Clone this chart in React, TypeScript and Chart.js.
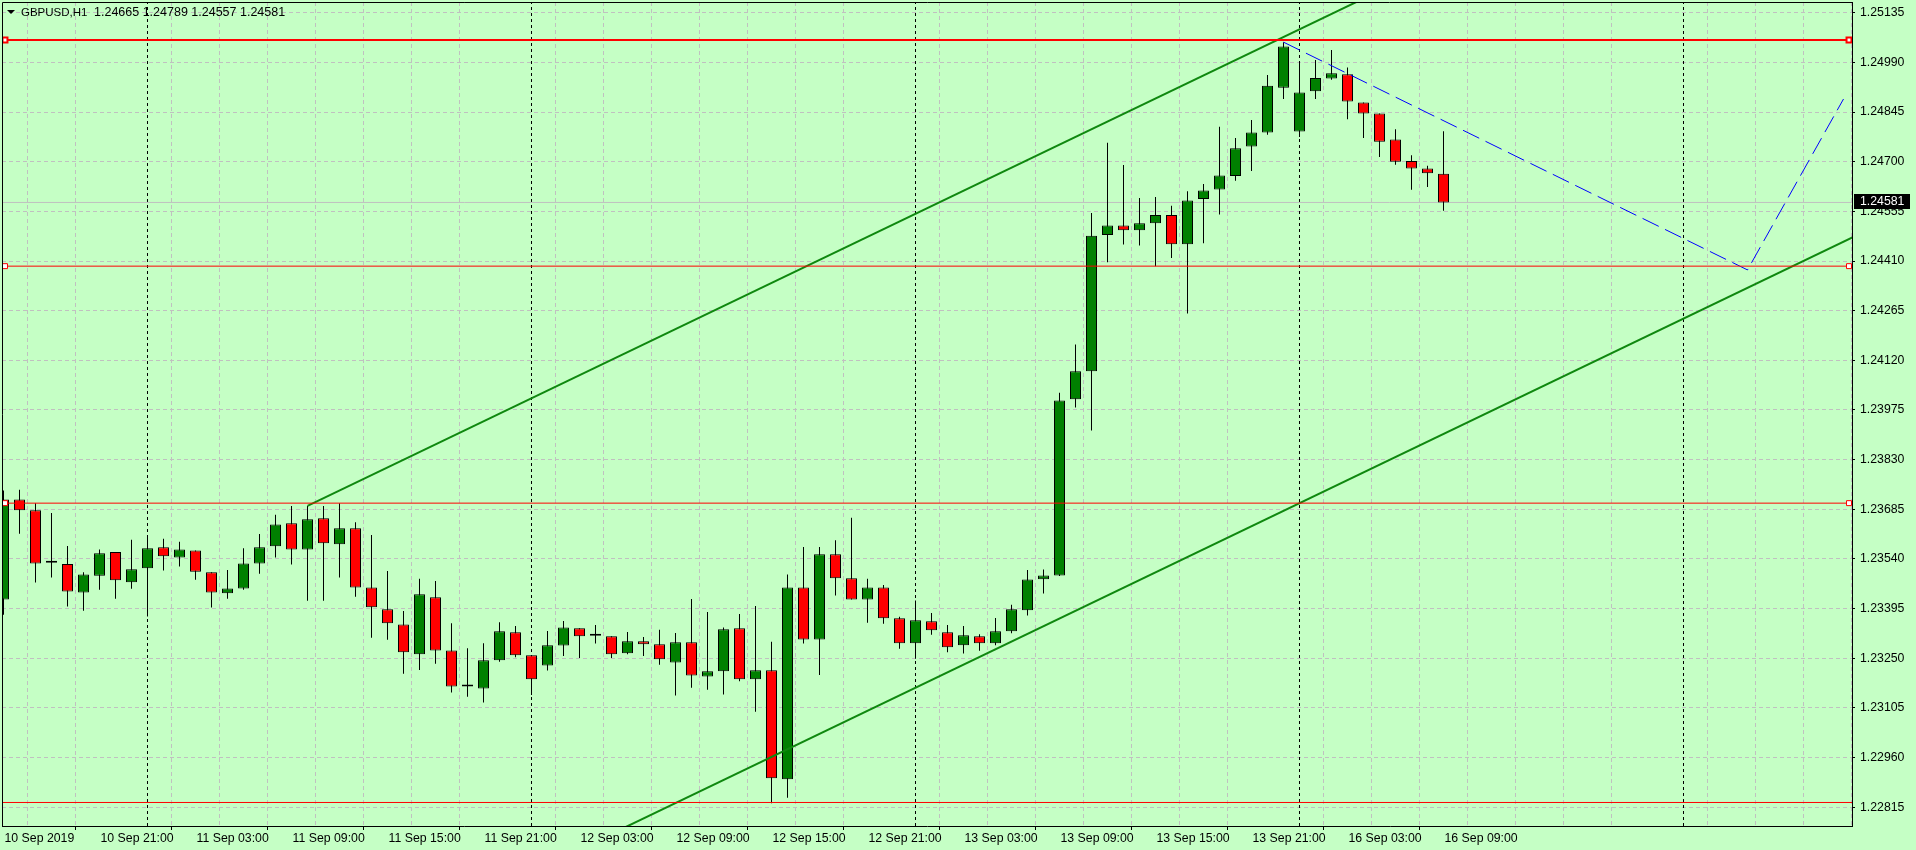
import { useEffect, useRef } from 'react';
import { Chart, registerables } from 'chart.js';

Chart.register(...registerables);

// ---------------- data ----------------
const symbolName = 'GBPUSD,H1';
const lastBarOHLC = ['1.24665', '1.24789', '1.24557', '1.24581'];

const opens = [
  1.23422, 1.23714, 1.23682, 1.23529, 1.23525, 1.23442, 1.23491, 1.23560, 1.23472, 1.23513,
  1.23574, 1.23544, 1.23565, 1.23501, 1.23440, 1.23454, 1.23527, 1.23577, 1.23644, 1.23568,
  1.23659, 1.23583, 1.23630, 1.23457, 1.23393, 1.23349, 1.23262, 1.23428, 1.23273, 1.23168,
  1.23162, 1.23244, 1.23326, 1.23259, 1.23229, 1.23287, 1.23338, 1.23316, 1.23314, 1.23265,
  1.23300, 1.23291, 1.23238, 1.23297, 1.23197, 1.23212, 1.23338, 1.23189, 1.23215, 1.22897,
  1.23457, 1.23305, 1.23554, 1.23484, 1.23422, 1.23457, 1.23367, 1.23294, 1.23358, 1.23326,
  1.23288, 1.23314, 1.23294, 1.23329, 1.23390, 1.23481, 1.23492, 1.24006, 1.24088, 1.24486,
  1.24514, 1.24500, 1.24520, 1.24544, 1.24459, 1.24591, 1.24619, 1.24658, 1.24744, 1.24785,
  1.24916, 1.24788, 1.24906, 1.24943, 1.24955, 1.24873, 1.24841, 1.24765, 1.24702, 1.24680,
  1.24665,
];
const highs = [
  1.23740, 1.23742, 1.23703, 1.23674, 1.23578, 1.23501, 1.23568, 1.23560, 1.23596, 1.23607,
  1.23599, 1.23590, 1.23565, 1.23501, 1.23508, 1.23571, 1.23613, 1.23669, 1.23695, 1.23695,
  1.23695, 1.23703, 1.23647, 1.23610, 1.23505, 1.23388, 1.23482, 1.23476, 1.23352, 1.23279,
  1.23294, 1.23355, 1.23344, 1.23259, 1.23330, 1.23359, 1.23338, 1.23347, 1.23314, 1.23327,
  1.23312, 1.23333, 1.23324, 1.23423, 1.23385, 1.23340, 1.23379, 1.23403, 1.23298, 1.23495,
  1.23575, 1.23575, 1.23595, 1.23660, 1.23482, 1.23464, 1.23371, 1.23419, 1.23382, 1.23347,
  1.23344, 1.23320, 1.23368, 1.23406, 1.23508, 1.23509, 1.24025, 1.24166, 1.24550, 1.24755,
  1.24690, 1.24594, 1.24597, 1.24571, 1.24614, 1.24635, 1.24802, 1.24769, 1.24822, 1.24953,
  1.25049, 1.24985, 1.24997, 1.25026, 1.24975, 1.24873, 1.24841, 1.24795, 1.24719, 1.24688,
  1.24789,
];
const lows = [
  1.23377, 1.23614, 1.23471, 1.23486, 1.23401, 1.23389, 1.23450, 1.23424, 1.23453, 1.23372,
  1.23506, 1.23518, 1.23479, 1.23398, 1.23424, 1.23450, 1.23497, 1.23544, 1.23524, 1.23418,
  1.23418, 1.23486, 1.23430, 1.23310, 1.23304, 1.23205, 1.23216, 1.23234, 1.23150, 1.23138,
  1.23121, 1.23240, 1.23253, 1.23143, 1.23214, 1.23257, 1.23251, 1.23293, 1.23251, 1.23262,
  1.23257, 1.23231, 1.23141, 1.23164, 1.23158, 1.23144, 1.23183, 1.23094, 1.22827, 1.22843,
  1.23293, 1.23201, 1.23433, 1.23422, 1.23354, 1.23351, 1.23278, 1.23249, 1.23319, 1.23268,
  1.23264, 1.23272, 1.23288, 1.23323, 1.23375, 1.23439, 1.23490, 1.23982, 1.23915, 1.24406,
  1.24458, 1.24455, 1.24395, 1.24419, 1.24257, 1.24462, 1.24546, 1.24644, 1.24673, 1.24779,
  1.24883, 1.24772, 1.24883, 1.24939, 1.24824, 1.24769, 1.24714, 1.24691, 1.24618, 1.24626,
  1.24557,
];
const closes = [
  1.23714, 1.23682, 1.23527, 1.23529, 1.23445, 1.23495, 1.23557, 1.23478, 1.23510, 1.23571,
  1.23548, 1.23568, 1.23503, 1.23442, 1.23454, 1.23527, 1.23574, 1.23641, 1.23568, 1.23656,
  1.23586, 1.23630, 1.23457, 1.23399, 1.23352, 1.23268, 1.23437, 1.23273, 1.23168, 1.23168,
  1.23244, 1.23329, 1.23259, 1.23189, 1.23288, 1.23340, 1.23314, 1.23316, 1.23262, 1.23300,
  1.23291, 1.23247, 1.23297, 1.23200, 1.23212, 1.23335, 1.23189, 1.23215, 1.22900, 1.23457,
  1.23305, 1.23554, 1.23484, 1.23422, 1.23457, 1.23367, 1.23294, 1.23361, 1.23332, 1.23282,
  1.23317, 1.23294, 1.23329, 1.23393, 1.23480, 1.23492, 1.24003, 1.24088, 1.24484, 1.24514,
  1.24500, 1.24520, 1.24544, 1.24459, 1.24587, 1.24616, 1.24660, 1.24739, 1.24785, 1.24922,
  1.25036, 1.24902, 1.24944, 1.24958, 1.24876, 1.24841, 1.24758, 1.24700, 1.24680, 1.24666,
  1.24581,
];

const timeLabels = [
  '10 Sep 2019', '10 Sep 21:00', '11 Sep 03:00', '11 Sep 09:00', '11 Sep 15:00', '11 Sep 21:00',
  '12 Sep 03:00', '12 Sep 09:00', '12 Sep 15:00', '12 Sep 21:00', '13 Sep 03:00', '13 Sep 09:00',
  '13 Sep 15:00', '13 Sep 21:00', '16 Sep 03:00', '16 Sep 09:00',
];
const barsPerLabel = 6;
const barsPerGrid = 3;
const daySeparatorBars = [9, 33, 57, 81, 105];

const priceTicks = [
  1.25135, 1.2499, 1.24845, 1.247, 1.24555, 1.2441, 1.24265, 1.2412, 1.23975,
  1.2383, 1.23685, 1.2354, 1.23395, 1.2325, 1.23105, 1.2296, 1.22815,
];

const levelPrices = [1.25055, 1.24395, 1.23703, 1.22829];
const channelUpper = [[19, 1.23695], [80, 1.25064]];
const channelLower = [[48, 1.22962], [81, 1.23703]];
const forecastPath = [[80, 1.25049], [109, 1.24384], [115, 1.24883]];
const bidPrice = 1.24581;

// ---------------- layout / style ----------------
const W = 1916;
const H = 850;
const PLOT = { left: 2, top: 2, right: 1852, bottom: 826 };
const X_MIN = -0.09375;
const X_MAX = 115.53125;
const Y_MAX = 1.2516624;
const Y_MIN = 1.2276033;
const FONT = 'Liberation Sans';
const FONT_SIZE = 12.3;
const BG = '#c5ffc5';
const GRID = '#c0c0c0';
const BULL = '#008000';
const BEAR = '#ff0000';
const TREND = '#0f880f';
const TITLE_X = 21;
const TITLE_VALUES_X = 94;

const labelAt = (v: number) => {
  const k = Math.round(v);
  if (k % barsPerLabel !== 0) return '';
  const j = k / barsPerLabel;
  return j >= 0 && j < timeLabels.length ? timeLabels[j] : '';
};

const ray = (a: number[], b: number[], x0: number, x1: number) => {
  const slope = (b[1] - a[1]) / (b[0] - a[0]);
  return [
    { x: x0, y: a[1] + slope * (x0 - a[0]) },
    { x: x1, y: a[1] + slope * (x1 - a[0]) },
  ];
};

export default function App() {
  const ref = useRef<HTMLCanvasElement | null>(null);

  useEffect(() => {
    const canvas = ref.current;
    if (!canvas) return;
    Chart.defaults.font.family = FONT;
    Chart.defaults.font.size = FONT_SIZE;
    Chart.defaults.color = '#000';

    const wicks = highs.map((h, i) => ({ x: i, y: [lows[i], h] }));
    const bodies = opens.map((o, i) => ({ x: i, y: [Math.min(o, closes[i]), Math.max(o, closes[i])] }));
    const bodyColors = opens.map((o, i) => (closes[i] >= o ? BULL : BEAR));

    const markerDx = 3 / 16;
    const levelSets = levelPrices.map((p, k) => ({
      type: 'line' as const,
      data: [
        { x: X_MIN, y: p },
        { x: X_MIN + markerDx, y: p },
        { x: X_MAX - markerDx, y: p },
        { x: X_MAX, y: p },
      ],
      borderColor: BEAR,
      borderWidth: k === 0 ? 2 : 1,
      pointRadius: k < 3 ? [0, 3.5, 3.5, 0] : 0,
      pointStyle: 'rect',
      pointBackgroundColor: '#ffffff',
      pointBorderColor: BEAR,
      pointBorderWidth: k === 0 ? 2 : 1,
      fill: false,
      tension: 0,
      order: 0,
    }));

    const chanStart = channelUpper[0][0];
    const upper = ray(channelUpper[0], channelUpper[1], chanStart, X_MAX + 2);
    const lower = ray(channelLower[0], channelLower[1], chanStart, X_MAX + 2);

    const sepSets = daySeparatorBars.map((d) => ({
      type: 'line' as const,
      data: [{ x: d, y: Y_MIN }, { x: d, y: Y_MAX }],
      borderColor: '#000',
      borderWidth: 1,
      borderDash: [3, 3],
      pointRadius: 0,
      fill: false,
      order: 6,
    }));

    const overlay = {
      id: 'mt4overlay',
      afterDraw(c: any) {
        const ctx = c.ctx;
        const a = c.chartArea;
        ctx.save();
        // frame
        ctx.strokeStyle = '#000';
        ctx.lineWidth = 1;
        ctx.beginPath();
        ctx.moveTo(a.left + 0.5, a.bottom);
        ctx.lineTo(a.left + 0.5, a.top + 0.5);
        ctx.lineTo(a.right, a.top + 0.5);
        ctx.stroke();
        // title
        ctx.fillStyle = '#000';
        ctx.beginPath();
        ctx.moveTo(7, 10);
        ctx.lineTo(15, 10);
        ctx.lineTo(11, 14);
        ctx.closePath();
        ctx.fill();
        ctx.textBaseline = 'middle';
        ctx.textAlign = 'left';
        ctx.font = `11.5px "${FONT}"`;
        ctx.fillText(symbolName, TITLE_X, 12.5);
        ctx.font = `12.5px "${FONT}"`;
        ctx.fillText(lastBarOHLC.join(' '), TITLE_VALUES_X, 12.5);
        // bid label
        const y = c.scales.y.getPixelForValue(bidPrice);
        ctx.fillStyle = '#000';
        ctx.fillRect(a.right + 2, Math.round(y) - 8, 56, 15);
        ctx.fillStyle = '#fff';
        ctx.font = `${FONT_SIZE}px "${FONT}"`;
        ctx.fillText(bidPrice.toFixed(5), a.right + 8, Math.round(y) - 0.5);
        ctx.restore();
      },
    };

    const chart = new Chart(canvas, {
      type: 'bar',
      data: {
        datasets: [
          ...levelSets,
          {
            type: 'line',
            data: upper,
            borderColor: TREND,
            borderWidth: 2,
            pointRadius: 0,
            fill: false,
            order: 0,
          },
          {
            type: 'line',
            data: lower,
            borderColor: TREND,
            borderWidth: 2,
            pointRadius: 0,
            fill: false,
            order: 0,
          },
          {
            type: 'line',
            data: forecastPath.map(([x, y]) => ({ x, y })),
            borderColor: '#0000ff',
            borderWidth: 1,
            borderDash: [18, 7],
            pointRadius: 0,
            fill: false,
            tension: 0,
            order: 0,
          },
          {
            type: 'bar',
            data: bodies,
            backgroundColor: bodyColors,
            borderColor: '#000',
            borderWidth: 1,
            borderSkipped: false,
            barThickness: 11,
            minBarLength: 2,
            grouped: false,
            inflateAmount: 0,
            order: 1,
          },
          {
            type: 'bar',
            data: wicks,
            backgroundColor: '#000',
            borderWidth: 0,
            barThickness: 1,
            grouped: false,
            inflateAmount: 0,
            order: 2,
          },
          {
            type: 'line',
            data: [{ x: X_MIN, y: bidPrice }, { x: X_MAX, y: bidPrice }],
            borderColor: GRID,
            borderWidth: 1,
            pointRadius: 0,
            fill: false,
            order: 5,
          },
          ...sepSets,
        ] as any,
      },
      options: {
        responsive: false,
        maintainAspectRatio: false,
        animation: false,
        devicePixelRatio: 1,
        events: [],
        layout: { padding: { left: PLOT.left, top: PLOT.top, right: 0, bottom: 0 }, autoPadding: false },
        plugins: { legend: { display: false }, tooltip: { enabled: false }, title: { display: false } },
        scales: {
          x: {
            type: 'linear',
            position: 'bottom',
            min: X_MIN,
            max: X_MAX,
            offset: false,
            afterBuildTicks: (s: any) => {
              const t = [];
              for (let v = 0; v <= X_MAX; v += barsPerGrid) t.push({ value: v });
              s.ticks = t;
            },
            afterFit: (s: any) => {
              s.height = H - PLOT.bottom;
              s.paddingLeft = 0;
              s.paddingRight = 0;
            },
            grid: {
              color: (ctx: any) =>
                ctx.tick && daySeparatorBars.includes(Math.round(ctx.tick.value)) ? 'rgba(0,0,0,0)' : GRID,
              lineWidth: 1,
              tickLength: 4,
              tickColor: (ctx: any) => (ctx.tick && labelAt(ctx.tick.value) ? '#000' : 'rgba(0,0,0,0)'),
              tickBorderDash: [1, 0],
            },
            border: { display: true, color: '#000', width: 1, dash: [4, 3] },
            ticks: {
              autoSkip: false,
              maxRotation: 0,
              minRotation: 0,
              align: 'start',
              padding: 1,
              labelOffset: 1,
              color: '#000',
              font: { family: FONT, size: FONT_SIZE },
              callback: (v: any) => labelAt(Number(v)),
            },
          },
          y: {
            type: 'linear',
            position: 'right',
            min: Y_MIN,
            max: Y_MAX,
            afterBuildTicks: (s: any) => {
              s.ticks = priceTicks.map((v) => ({ value: v }));
            },
            afterFit: (s: any) => {
              s.width = W - PLOT.right;
              s.paddingTop = 0;
              s.paddingBottom = 0;
            },
            grid: {
              color: GRID,
              lineWidth: 1,
              tickLength: 3,
              tickColor: '#000',
              tickBorderDash: [1, 0],
            },
            border: { display: true, color: '#000', width: 1, dash: [4, 3] },
            ticks: {
              autoSkip: false,
              padding: 5,
              color: '#000',
              font: { family: FONT, size: FONT_SIZE },
              callback: (v: any) => Number(v).toFixed(5),
            },
          },
        },
      } as any,
      plugins: [overlay],
    });

    return () => chart.destroy();
  }, []);

  return (
    <div style={{ position: 'absolute', left: 0, top: 0, width: W, height: H, background: BG }}>
      <canvas ref={ref} width={W} height={H} style={{ display: 'block', width: W, height: H, background: BG }} />
    </div>
  );
}
